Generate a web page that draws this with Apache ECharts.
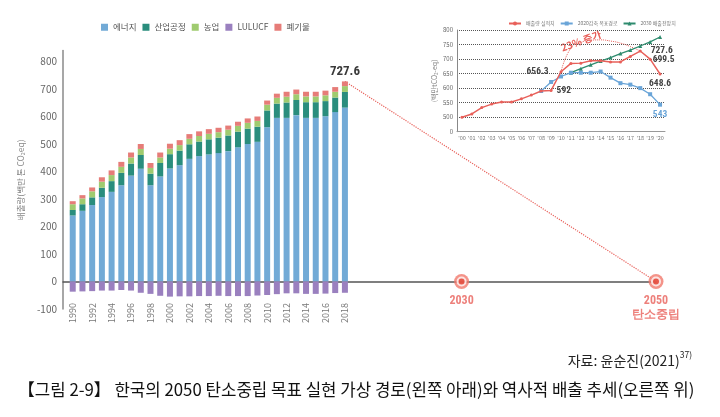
<!DOCTYPE html>
<html>
<head>
<meta charset="utf-8">
<script src="https://cdn.jsdelivr.net/npm/echarts@6/dist/echarts.min.js"></script>
<style>
html,body{margin:0;padding:0;background:#fff;}
#c{width:720px;height:417px;}
</style>
</head>
<body>
<div id="c"></div>
<script>
// ---- main chart data (백만 톤 CO2eq) ----
const years = [1990,1991,1992,1993,1994,1995,1996,1997,1998,1999,2000,2001,2002,2003,2004,2005,2006,2007,2008,2009,2010,2011,2012,2013,2014,2015,2016,2017,2018];
const energy = [240,257,278,307,326,350,385,410,350,382,411,423,446,456,462,467,474,488,500,508,561,595,595,605,595,595,601,616,632.4];
const ippu   = [20,24,28,34,39,45,44,50,42,49,52,53,53,53,55,56,57,57,56,55,61,52,56,55,57,57,55,53,56.9];
const agri   = [21,21,22,22,22,22,22,22,21,20,20,20,20,20,20,20,21,21,21,21,21,21,21,21,21,21,21,21,21.2];
const waste  = [11,12,14,16,17,18,18,18,18,18,18,18,17,17,17,16,15,15,16,16,15,15,18,17,17,17,17,17,17.1];
const lulucf = [-37,-36,-35,-33,-33,-31,-33,-41,-45,-52,-55,-54,-54,-53,-53,-52,-53,-53,-53,-51,-49,-46,-43,-43,-45,-45,-44,-42,-41];
const milestoneYears = [2030, 2050];
const milestoneLabels = ['2030', '2050\n탄소중립'];
const netZeroValue = 0;
const axisStartYear = 1989;
const axisEndYear = 2050;

// ---- inset data ----
const insetYears = ["'00","'01","'02","'03","'04","'05","'06","'07","'08","'09","'10","'11","'12","'13","'14","'15","'16","'17","'18","'19","'20"];
const actual = [500,511,533,545,552,552,563,576,590,592,656.3,685,686,694,694,690,690,709,727.6,699.5,648.6];
const target2020 = [null,null,null,null,null,null,null,null,590,621,640,653,653,653,657,636,617,612,600,579,543];
const bau2030 = [null,null,null,null,null,null,null,null,null,null,null,653,667,680,693,705,719,731,745,759,776];
const arcPoints = [null,null,null,null,null,null,null,null,null,null,656.3,738,757,765,766,762,755,743,727.6,null,null];

const chart = echarts.init(document.getElementById('c'), null, {renderer:'canvas'});
const FONT = "'Noto Sans CJK KR','Noto Sans',sans-serif";
const NUMFONT = "'Liberation Sans Narrow','Roboto Condensed','Roboto',sans-serif";

// category axis spanning the whole timeline (one slot per year)
const axisCats = [];
for (let y = axisStartYear; y <= axisEndYear; y++) axisCats.push(String(y));
const slot = y => axisCats.indexOf(String(y));
const place = arr => { const out = axisCats.map(() => null); arr.forEach((v,i) => { out[slot(years[i])] = v; }); return out; };

const last = years.length - 1;
const total2018 = (energy[last] + ippu[last] + agri[last] + waste[last]).toFixed(1);
const wasteData = place(waste);
wasteData[slot(years[last])] = {value: waste[last], label:{show:true, position:'top', distance:3, formatter: total2018, fontSize:13, fontWeight:'bold', color:'#3a3a3a', fontFamily:NUMFONT}};

const pathData = axisCats.map(() => null);
pathData[slot(years[last])] = Number(total2018);
pathData[slot(milestoneYears[1])] = netZeroValue;

const milestoneData = axisCats.map(() => null);
milestoneYears.forEach(y => { milestoneData[slot(y)] = netZeroValue; });

const redLabelConf = {
  9:  {position:'right', distance:4},
  10: {position:'left', distance:11},
  18: {position:'right', distance:9},
  19: {position:'right', distance:1},
  20: {position:'bottom', distance:3}
};
const insetLabelBase = {show:true, fontSize:9.5, fontWeight:'bold', color:'#444', fontFamily:NUMFONT};
const actualData = actual.map((v,i) => redLabelConf[i] ? {value:v, label:Object.assign({}, insetLabelBase, redLabelConf[i])} : v);
const targetData = target2020.map((v,i) => i === target2020.length-1 ? {value:v, label:Object.assign({}, insetLabelBase, {position:'bottom', distance:3, color:'#6aa5d8'})} : v);

const bar = (name, data, color) => ({
  name, type:'bar', stack:'total', xAxisIndex:0, yAxisIndex:0, barWidth:6,
  data, itemStyle:{color}, emphasis:{disabled:true}
});

const option = {
  animation:false,
  textStyle:{fontFamily:FONT},
  title:[
    {text:'자료: 윤순진(2021){sup|37)}', right:23, top:346,
     textStyle:{fontSize:14, color:'#222', fontWeight:'normal', fontFamily:FONT, lineHeight:19,
       rich:{sup:{fontSize:8.5, lineHeight:9, verticalAlign:'top', color:'#222'}}}},
    {text:'【그림 2-9】 한국의 2050 탄소중립 목표 실현 가상 경로(왼쪽 아래)와 역사적 배출 추세(오른쪽 위)', left:13, top:376,
     textStyle:{fontSize:16.8, color:'#111', fontWeight:'normal', fontFamily:FONT}}
  ],
  legend:[
    {data:['에너지','산업공정','농업','LULUCF','폐기물'], left:101, top:23, padding:0,
     itemWidth:7, itemHeight:7, itemGap:6, icon:'rect',
     textStyle:{fontSize:8.5, color:'#555', fontFamily:FONT}},
    {data:['배출량 실적치','2020감축 목표경로','2030 배출전망치'], left:508, top:21, padding:0,
     itemWidth:12, itemHeight:5, itemGap:5,
     textStyle:{fontSize:5, color:'#777', fontFamily:FONT}}
  ],
  grid:[
    {left:63, right:64, top:50.5, bottom:108},
    {left:457, right:55, top:30, bottom:285.3}
  ],
  xAxis:[
    {type:'category', gridIndex:0, data:axisCats, boundaryGap:false, position:'bottom',
     axisLine:{show:false, onZero:false}, axisTick:{show:false}, splitLine:{show:false},
     axisLabel:{rotate:90, margin:-6, fontSize:9, color:'#777', interval:0,
       formatter: v => (Number(v) % 2 === 0 && Number(v) <= years[last]) ? v : ''}},
    {type:'category', gridIndex:0, data:axisCats, boundaryGap:false, position:'top',
     axisLine:{show:true, onZero:true, lineStyle:{color:'#555', width:1.5}},
     axisTick:{show:false}, axisLabel:{show:false}, splitLine:{show:false}},
    {type:'category', gridIndex:1, data:insetYears, boundaryGap:true,
     axisLine:{lineStyle:{color:'#999'}}, axisTick:{show:false},
     axisLabel:{fontSize:5.5, color:'#777', margin:3, interval:0}}
  ],
  yAxis:[
    {type:'value', gridIndex:0, min:-100, max:840, interval:100,
     name:'배출량(백만 톤 CO₂eq)', nameLocation:'middle', nameGap:38,
     nameTextStyle:{fontSize:8.5, color:'#888', fontFamily:FONT},
     axisLine:{show:true, lineStyle:{color:'#8a8a8a', width:1.5}},
     axisTick:{show:false}, splitLine:{show:false},
     axisLabel:{fontSize:10, color:'#666', margin:6, showMaxLabel:false}},
    {type:'value', gridIndex:1, min:450, max:800, interval:50,
     name:'(백만tCO₂-eq)', nameLocation:'middle', nameGap:19,
     nameTextStyle:{fontSize:7, color:'#888', fontFamily:FONT},
     axisLine:{show:true, lineStyle:{color:'#888'}}, axisTick:{show:false},
     splitLine:{show:true, lineStyle:{type:'dotted', color:'#555', width:1}},
     axisLabel:{fontSize:6, color:'#666', margin:4, showMinLabel:true, formatter: v => v === 450 ? '0' : String(v)}}
  ],
  series:[
    bar('에너지', place(energy), '#72aad6'),
    bar('산업공정', place(ippu), '#2a8d7d'),
    bar('농업', place(agri), '#9fcb6f'),
    bar('LULUCF', place(lulucf), '#9a80bf'),
    bar('폐기물', wasteData, '#e67c78'),
    {name:'path', type:'line', xAxisIndex:0, yAxisIndex:0, symbol:'none', silent:true, connectNulls:true,
     data:pathData, lineStyle:{type:'dotted', color:'#e8605a', width:1.2}, z:1},
    {name:'milestoneHalo', type:'scatter', xAxisIndex:0, yAxisIndex:0, symbol:'circle', symbolSize:15,
     data: milestoneData, itemStyle:{color:'#f1786c'}, z:5, silent:true},
    {name:'milestone', type:'scatter', xAxisIndex:0, yAxisIndex:0, symbol:'circle', symbolSize:8,
     data: milestoneData,
     itemStyle:{color:'#e54b3c', borderColor:'#fff', borderWidth:2}, z:6, silent:true,
     label:{show:true, position:'bottom', distance:7, color:'#e8605a', fontWeight:'bold', fontSize:12, lineHeight:14,
       fontFamily:NUMFONT, formatter: p => milestoneLabels[milestoneYears.indexOf(Number(p.name))]}},
    {name:'arc', type:'line', xAxisIndex:2, yAxisIndex:1, smooth:true, symbol:'none', silent:true,
     data:arcPoints, lineStyle:{type:'dotted', color:'#e8605a', width:1}, z:1},
    {name:'2030 배출전망치', type:'line', xAxisIndex:2, yAxisIndex:1, data:bau2030,
     symbol:'triangle', symbolSize:4, itemStyle:{color:'#2e8b6e'}, lineStyle:{color:'#2e8b6e', width:1.3}, z:2},
    {name:'2020감축 목표경로', type:'line', xAxisIndex:2, yAxisIndex:1, data:targetData,
     symbol:'rect', symbolSize:4, itemStyle:{color:'#6aa5d8'}, lineStyle:{color:'#6aa5d8', width:1.3}, z:3},
    {name:'배출량 실적치', type:'line', xAxisIndex:2, yAxisIndex:1, data:actualData,
     symbol:'circle', symbolSize:3, itemStyle:{color:'#e8605a'}, lineStyle:{color:'#e8605a', width:1.5}, z:4}
  ],
  graphic:[
    {type:'text', x:581, y:41, rotation:0.35,
     style:{text:'23% 증가', fill:'#e8605a', font:"bold 10px 'Noto Sans CJK KR'", align:'center', verticalAlign:'middle'}}
  ]
};
chart.setOption(option);
</script>
</body>
</html>
